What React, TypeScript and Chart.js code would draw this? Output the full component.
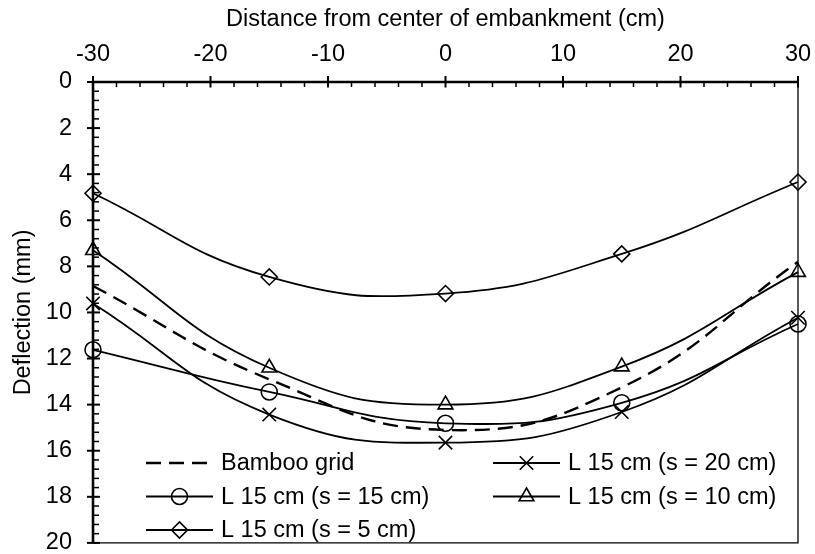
import React, { useEffect, useRef } from "react";
import { Chart, registerables } from "chart.js";
import { drawPoint } from "chart.js/helpers";

Chart.register(...registerables);

// Horizontal positions of the measuring points (cm)
const positions = [-30, -15, 0, 15, 30];

// Deflection at each position (mm)
const bambooGrid = [8.85, 12.9, 15.1, 13.25, 7.8];
const spacing20 = [9.61, 14.43, 15.65, 14.32, 10.23];
const spacing15 = [11.62, 13.45, 14.81, 13.92, 10.5];
const spacing10 = [7.3, 12.4, 14.0, 12.35, 8.25];
const spacing5 = [4.83, 8.46, 9.18, 7.46, 4.34];

const seriesLabels = [
  "Bamboo grid",
  "L 15 cm (s = 20 cm)",
  "L 15 cm (s = 15 cm)",
  "L 15 cm (s = 10 cm)",
  "L 15 cm (s = 5 cm)",
];

const xTitle = "Distance from center of embankment (cm)";
const yTitle = "Deflection (mm)";

const xMin = -30;
const xMax = 30;
const xMajor = 10;
const xMinor = 2;
const yMin = 0;
const yMax = 20;
const yMajor = 2;
const yMinor = 0.4;

const FONT = "'Liberation Sans', Arial, Helvetica, sans-serif";
const FONT_SIZE = 23.5;

// Axis lines, major ticks crossing the axes and minor ticks pointing inward
const axesPlugin = {
  id: "excelAxes",
  beforeDatasetsDraw(chart: any) {
    const { ctx, chartArea: a, scales } = chart;
    const x = scales.x;
    const y = scales.y;
    ctx.save();
    ctx.strokeStyle = "#000";
    ctx.lineCap = "butt";

    // thin frame on right and bottom
    ctx.lineWidth = 1.3;
    ctx.beginPath();
    ctx.moveTo(a.left, a.bottom);
    ctx.lineTo(a.right, a.bottom);
    ctx.lineTo(a.right, a.top);
    ctx.stroke();

    // x ticks
    const nx = Math.round((xMax - xMin) / xMinor);
    for (let i = 0; i <= nx; i++) {
      const v = xMin + i * xMinor;
      const px = x.getPixelForValue(v);
      const major = Math.abs(v / xMajor - Math.round(v / xMajor)) < 1e-6;
      ctx.lineWidth = major ? 2 : 1.5;
      ctx.beginPath();
      ctx.moveTo(px, major ? a.top - 6 : a.top);
      ctx.lineTo(px, a.top + (major ? 5.5 : 5));
      ctx.stroke();
    }

    // y ticks
    const ny = Math.round((yMax - yMin) / yMinor);
    for (let i = 0; i <= ny; i++) {
      const v = yMin + i * yMinor;
      const py = y.getPixelForValue(v);
      const major = Math.abs(v / yMajor - Math.round(v / yMajor)) < 1e-6;
      ctx.lineWidth = major ? 2 : 1.5;
      ctx.beginPath();
      ctx.moveTo(major ? a.left - 6 : a.left, py);
      ctx.lineTo(a.left + (major ? 7 : 6), py);
      ctx.stroke();
    }

    // main axis lines
    ctx.lineWidth = 2.6;
    ctx.beginPath();
    ctx.moveTo(a.left, a.bottom);
    ctx.lineTo(a.left, a.top);
    ctx.lineTo(a.right, a.top);
    ctx.stroke();
    ctx.restore();
  },
};

// Two-column legend inside the plot, each entry a line sample with its marker
const legendSlots = [
  { col: 0, row: 0 },
  { col: 1, row: 0 },
  { col: 0, row: 1 },
  { col: 1, row: 1 },
  { col: 0, row: 2 },
];
const legendCols = [146, 493];
const legendRows = [463, 496.5, 530];
const sampleLength = 67;

const legendPlugin = {
  id: "inlineLegend",
  afterDraw(chart: any) {
    const { ctx } = chart;
    ctx.save();
    chart.data.datasets.forEach((ds: any, i: number) => {
      const slot = legendSlots[i];
      const x0 = legendCols[slot.col];
      const yy = legendRows[slot.row];
      ctx.strokeStyle = "#000";
      ctx.lineWidth = ds.borderWidth;
      ctx.setLineDash(ds.borderDash || []);
      ctx.beginPath();
      ctx.moveTo(x0, yy);
      ctx.lineTo(x0 + sampleLength, yy);
      ctx.stroke();
      ctx.setLineDash([]);
      if (ds.pointRadius > 0) {
        ctx.fillStyle = "rgba(0,0,0,0)";
        ctx.lineWidth = ds.pointBorderWidth;
        drawPoint(
          ctx,
          {
            pointStyle: ds.pointStyle,
            rotation: 0,
            radius: ds.pointRadius,
            borderWidth: ds.pointBorderWidth,
          },
          x0 + sampleLength / 2,
          yy
        );
      }
      ctx.fillStyle = "#000";
      ctx.font = `${FONT_SIZE}px ${FONT}`;
      ctx.textAlign = "left";
      ctx.textBaseline = "middle";
      ctx.fillText(ds.label, x0 + sampleLength + 8, yy + 1);
    });
    ctx.restore();
  },
};

function makeSeries(label: string, values: number[], style: any) {
  return {
    label,
    data: positions.map((p, i) => ({ x: p, y: values[i] })),
    borderColor: "#000",
    backgroundColor: "rgba(0,0,0,0)",
    pointBackgroundColor: "rgba(0,0,0,0)",
    pointBorderColor: "#000",
    borderWidth: 1.8,
    pointBorderWidth: 1.6,
    tension: 0.45,
    clip: false,
    ...style,
  };
}

export default function App() {
  const canvasRef = useRef<HTMLCanvasElement | null>(null);

  useEffect(() => {
    const canvas = canvasRef.current;
    if (!canvas) return;
    Chart.defaults.font.family = FONT;
    Chart.defaults.color = "#000";

    const chart = new Chart(canvas, {
      type: "line",
      data: {
        datasets: [
          makeSeries(seriesLabels[0], bambooGrid, {
            pointRadius: 0,
            borderDash: [15, 8],
            borderWidth: 2.4,
          }),
          makeSeries(seriesLabels[1], spacing20, { pointStyle: "crossRot", pointRadius: 9.5 }),
          makeSeries(seriesLabels[2], spacing15, { pointStyle: "circle", pointRadius: 8 }),
          makeSeries(seriesLabels[3], spacing10, { pointStyle: "triangle", pointRadius: 8.5 }),
          makeSeries(seriesLabels[4], spacing5, { pointStyle: "rectRot", pointRadius: 8 }),
        ],
      },
      options: {
        responsive: false,
        animation: false,
        devicePixelRatio: 1,
        layout: { padding: { left: 0, top: 0, right: 17, bottom: 8 } },
        plugins: {
          legend: { display: false },
          tooltip: { enabled: false },
        },
        scales: {
          x: {
            type: "linear",
            position: "top",
            min: xMin,
            max: xMax,
            grid: { display: false },
            border: { display: false },
            ticks: {
              stepSize: xMajor,
              padding: 5,
              font: { size: FONT_SIZE },
              color: "#000",
            },
            title: {
              display: true,
              text: xTitle,
              font: { size: FONT_SIZE },
              color: "#000",
              padding: { top: 5, bottom: 0 },
            },
            afterFit(scale: any) {
              scale.height = 82;
              scale.paddingLeft = 0;
              scale.paddingRight = 0;
            },
          },
          y: {
            type: "linear",
            reverse: true,
            min: yMin,
            max: yMax,
            grid: { display: false },
            border: { display: false },
            ticks: {
              stepSize: yMajor,
              padding: 13,
              font: { size: FONT_SIZE },
              color: "#000",
            },
            title: {
              display: true,
              text: yTitle,
              font: { size: FONT_SIZE },
              color: "#000",
              padding: { top: 9, bottom: 0 },
            },
            afterFit(scale: any) {
              scale.width = 93;
              scale.paddingTop = 0;
              scale.paddingBottom = 0;
            },
          },
        },
      },
      plugins: [axesPlugin, legendPlugin],
    } as any);

    return () => chart.destroy();
  }, []);

  return (
    <div style={{ position: "fixed", left: 0, top: 0, width: 815, height: 554, background: "#fff" }}>
      <canvas ref={canvasRef} width={815} height={554} style={{ display: "block", width: 815, height: 554 }} />
    </div>
  );
}
